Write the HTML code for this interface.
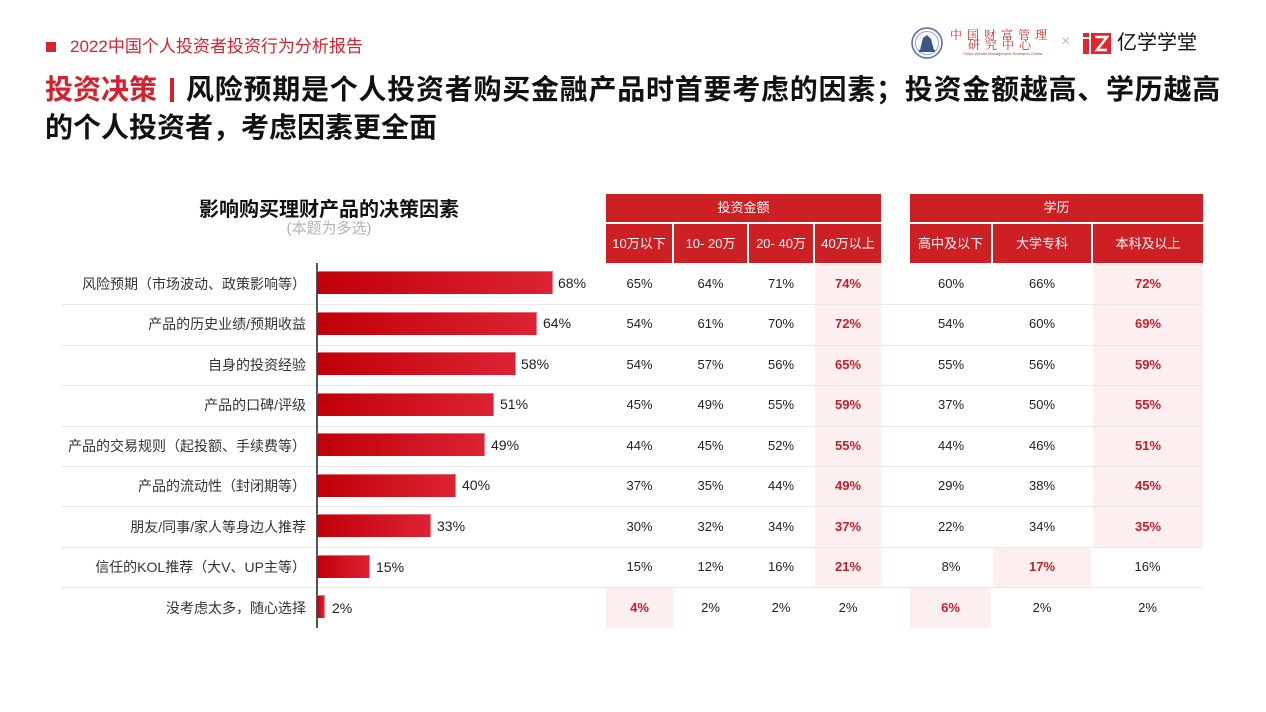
<!DOCTYPE html>
<html><head><meta charset="utf-8">
<style>
*{margin:0;padding:0;box-sizing:border-box}
body{width:1266px;height:712px;background:#fff;position:relative;overflow:hidden;font-family:"Liberation Sans","Noto Sans CJK SC",sans-serif;color:#222}
.a{position:absolute}
.cjk{font-family:"Liberation Sans","Noto Sans CJK SC",sans-serif}
.lbl{position:absolute;left:0;width:306px;text-align:right;font-size:14px;color:#333;height:40.44px;line-height:40.44px;white-space:nowrap}
.bar{position:absolute;left:317px;height:23px;background:linear-gradient(90deg,#c00008,#dc2233);border-top:1px solid #e56a72;border-right:1px solid #e8808a}
.val{position:absolute;font-size:14px;color:#222;height:40.44px;line-height:40.44px}
.sep{position:absolute;left:62px;width:1141px;height:1px;background:#e9e9e9}
.hd{position:absolute;background:#cc2025;color:#fff;font-size:13px;text-align:center}
.c{position:absolute;height:40.44px;line-height:40.44px;text-align:center;font-size:13px;color:#222}
.h{background:#fdeef0;color:#c8202b;font-weight:bold}
</style></head><body>

<!-- top label -->
<div class="a" style="left:46px;top:42px;width:10px;height:10px;background:#d9232f"></div>
<div class="a" style="left:70px;top:36px;font-size:17px;line-height:22px;color:#d9232f;white-space:nowrap">2022中国个人投资者投资行为分析报告</div>

<!-- title -->
<div class="a" style="left:45px;top:73px;font-size:28px;line-height:34px;font-weight:bold;color:#d7202c;white-space:nowrap">投资决策</div>
<div class="a" style="left:170px;top:78px;width:4px;height:24px;background:#d7202c"></div>
<div class="a" style="left:186px;top:73px;font-size:28px;line-height:34px;font-weight:bold;color:#111;white-space:nowrap;letter-spacing:0.75px">风险预期是个人投资者购买金融产品时首要考虑的因素；投资金额越高、学历越高</div>
<div class="a" style="left:45px;top:111px;font-size:28px;line-height:34px;font-weight:bold;color:#111;white-space:nowrap">的个人投资者，考虑因素更全面</div>

<!-- logos -->
<svg class="a" style="left:910px;top:26px" width="34" height="34" viewBox="0 0 34 34">
<circle cx="17" cy="17" r="15" fill="#f4f6fa" stroke="#5b6e96" stroke-width="1.5"/>
<circle cx="17" cy="17" r="11.5" fill="none" stroke="#8a9ab8" stroke-width="0.8"/>
<path d="M10 24 L13 12 L17 9 L21 13 L24 24 Z" fill="#3d5587"/>
<rect x="9" y="24" width="16" height="2" fill="#3d5587"/>
</svg>
<div class="a" style="left:950px;top:28px;font-family:'Noto Serif CJK SC',serif;font-size:12px;line-height:14px;color:#c0302a;letter-spacing:5px;white-space:nowrap">中国财富管理</div>
<div class="a" style="left:968px;top:38px;font-family:'Noto Serif CJK SC',serif;font-size:12px;line-height:14px;color:#c0302a;letter-spacing:5px;white-space:nowrap">研究中心</div>
<div class="a" style="left:963px;top:51px;font-size:4px;line-height:5px;color:#b04040;white-space:nowrap">China Wealth Management Research Center</div>
<div class="a" style="left:1061px;top:33px;font-size:16px;line-height:18px;color:#bbb">×</div>
<svg class="a" style="left:1083px;top:33px" width="28" height="21" viewBox="0 0 28 21">
<rect x="0" y="0" width="6" height="4" fill="#e3262e"/>
<rect x="0" y="6" width="6" height="15" fill="#e3262e"/>
<rect x="8" y="0" width="20" height="21" fill="#e3262e"/>
<path d="M12 4 L24 4 L14 17 L24 17" fill="none" stroke="#fff" stroke-width="2.5"/>
</svg>
<div class="a" style="left:1117px;top:31px;font-size:20px;line-height:24px;color:#111;white-space:nowrap">亿学学堂</div>

<!-- chart title -->
<div class="a" style="left:150px;width:358px;top:197px;text-align:center;font-size:20px;line-height:26px;font-weight:bold;color:#111">影响购买理财产品的决策因素</div>
<div class="a" style="left:150px;width:358px;top:220px;text-align:center;font-size:15px;line-height:18px;color:#b3b3b3">(本题为多选)</div>

<!-- table headers -->
<div class="hd" style="left:606px;top:194px;width:275px;height:28px;line-height:28px">投资金额</div>
<div class="hd" style="left:606px;top:224px;width:66px;height:39px;line-height:39px">10万以下</div>
<div class="hd" style="left:674px;top:224px;width:73px;height:39px;line-height:39px">10- 20万</div>
<div class="hd" style="left:749px;top:224px;width:64px;height:39px;line-height:39px">20- 40万</div>
<div class="hd" style="left:815px;top:224px;width:66px;height:39px;line-height:39px">40万以上</div>
<div class="hd" style="left:910px;top:194px;width:293px;height:28px;line-height:28px">学历</div>
<div class="hd" style="left:910px;top:224px;width:81px;height:39px;line-height:39px">高中及以下</div>
<div class="hd" style="left:993px;top:224px;width:98px;height:39px;line-height:39px">大学专科</div>
<div class="hd" style="left:1093px;top:224px;width:110px;height:39px;line-height:39px">本科及以上</div>

<!-- highlight cells -->
<div class="a" style="left:815px;top:264px;width:66px;height:323.5px;background:#fdeef0"></div>
<div class="a" style="left:1093px;top:264px;width:110px;height:283px;background:#fdeef0"></div>
<div class="a" style="left:993px;top:547.1px;width:98px;height:40.44px;background:#fdeef0"></div>
<div class="a" style="left:606px;top:587.5px;width:67px;height:40.44px;background:#fdeef0"></div>
<div class="a" style="left:910px;top:587.5px;width:81px;height:40.44px;background:#fdeef0"></div>

<!-- separators -->
<div class="sep" style="top:304px"></div>
<div class="sep" style="top:344.5px"></div>
<div class="sep" style="top:385px"></div>
<div class="sep" style="top:425.5px"></div>
<div class="sep" style="top:466px"></div>
<div class="sep" style="top:506px"></div>
<div class="sep" style="top:546.5px"></div>
<div class="sep" style="top:587px"></div>

<!-- axis -->
<div class="a" style="left:316px;top:263px;width:1.5px;height:365px;background:#555"></div>

<!-- rows -->
<!-- row 1 -->
<div class="lbl" style="top:264px">风险预期（市场波动、政策影响等）</div>
<div class="bar" style="top:271px;width:236px"></div>
<div class="val" style="top:263px;left:558px">68%</div>
<div class="c" style="top:264px;left:606px;width:67px">65%</div>
<div class="c" style="top:264px;left:673px;width:75px">64%</div>
<div class="c" style="top:264px;left:748px;width:66px">71%</div>
<div class="c h" style="top:264px;left:815px;width:66px;background:none">74%</div>
<div class="c" style="top:264px;left:910px;width:82px">60%</div>
<div class="c" style="top:264px;left:992px;width:100px">66%</div>
<div class="c h" style="top:264px;left:1093px;width:110px;background:none">72%</div>

<!-- row 2 -->
<div class="lbl" style="top:304.4px">产品的历史业绩/预期收益</div>
<div class="bar" style="top:311.5px;width:220px"></div>
<div class="val" style="top:303.4px;left:543px">64%</div>
<div class="c" style="top:304.4px;left:606px;width:67px">54%</div>
<div class="c" style="top:304.4px;left:673px;width:75px">61%</div>
<div class="c" style="top:304.4px;left:748px;width:66px">70%</div>
<div class="c h" style="top:304.4px;left:815px;width:66px;background:none">72%</div>
<div class="c" style="top:304.4px;left:910px;width:82px">54%</div>
<div class="c" style="top:304.4px;left:992px;width:100px">60%</div>
<div class="c h" style="top:304.4px;left:1093px;width:110px;background:none">69%</div>

<!-- row 3 -->
<div class="lbl" style="top:344.9px">自身的投资经验</div>
<div class="bar" style="top:352px;width:199px"></div>
<div class="val" style="top:343.9px;left:521px">58%</div>
<div class="c" style="top:344.9px;left:606px;width:67px">54%</div>
<div class="c" style="top:344.9px;left:673px;width:75px">57%</div>
<div class="c" style="top:344.9px;left:748px;width:66px">56%</div>
<div class="c h" style="top:344.9px;left:815px;width:66px;background:none">65%</div>
<div class="c" style="top:344.9px;left:910px;width:82px">55%</div>
<div class="c" style="top:344.9px;left:992px;width:100px">56%</div>
<div class="c h" style="top:344.9px;left:1093px;width:110px;background:none">59%</div>

<!-- row 4 -->
<div class="lbl" style="top:385.3px">产品的口碑/评级</div>
<div class="bar" style="top:392.5px;width:177px"></div>
<div class="val" style="top:384.3px;left:500px">51%</div>
<div class="c" style="top:385.3px;left:606px;width:67px">45%</div>
<div class="c" style="top:385.3px;left:673px;width:75px">49%</div>
<div class="c" style="top:385.3px;left:748px;width:66px">55%</div>
<div class="c h" style="top:385.3px;left:815px;width:66px;background:none">59%</div>
<div class="c" style="top:385.3px;left:910px;width:82px">37%</div>
<div class="c" style="top:385.3px;left:992px;width:100px">50%</div>
<div class="c h" style="top:385.3px;left:1093px;width:110px;background:none">55%</div>

<!-- row 5 -->
<div class="lbl" style="top:425.8px">产品的交易规则（起投额、手续费等）</div>
<div class="bar" style="top:433px;width:168px"></div>
<div class="val" style="top:424.8px;left:491px">49%</div>
<div class="c" style="top:425.8px;left:606px;width:67px">44%</div>
<div class="c" style="top:425.8px;left:673px;width:75px">45%</div>
<div class="c" style="top:425.8px;left:748px;width:66px">52%</div>
<div class="c h" style="top:425.8px;left:815px;width:66px;background:none">55%</div>
<div class="c" style="top:425.8px;left:910px;width:82px">44%</div>
<div class="c" style="top:425.8px;left:992px;width:100px">46%</div>
<div class="c h" style="top:425.8px;left:1093px;width:110px;background:none">51%</div>

<!-- row 6 -->
<div class="lbl" style="top:466.2px">产品的流动性（封闭期等）</div>
<div class="bar" style="top:473.5px;width:139px"></div>
<div class="val" style="top:465.2px;left:462px">40%</div>
<div class="c" style="top:466.2px;left:606px;width:67px">37%</div>
<div class="c" style="top:466.2px;left:673px;width:75px">35%</div>
<div class="c" style="top:466.2px;left:748px;width:66px">44%</div>
<div class="c h" style="top:466.2px;left:815px;width:66px;background:none">49%</div>
<div class="c" style="top:466.2px;left:910px;width:82px">29%</div>
<div class="c" style="top:466.2px;left:992px;width:100px">38%</div>
<div class="c h" style="top:466.2px;left:1093px;width:110px;background:none">45%</div>

<!-- row 7 -->
<div class="lbl" style="top:506.6px">朋友/同事/家人等身边人推荐</div>
<div class="bar" style="top:514px;width:114px"></div>
<div class="val" style="top:505.6px;left:437px">33%</div>
<div class="c" style="top:506.6px;left:606px;width:67px">30%</div>
<div class="c" style="top:506.6px;left:673px;width:75px">32%</div>
<div class="c" style="top:506.6px;left:748px;width:66px">34%</div>
<div class="c h" style="top:506.6px;left:815px;width:66px;background:none">37%</div>
<div class="c" style="top:506.6px;left:910px;width:82px">22%</div>
<div class="c" style="top:506.6px;left:992px;width:100px">34%</div>
<div class="c h" style="top:506.6px;left:1093px;width:110px;background:none">35%</div>

<!-- row 8 -->
<div class="lbl" style="top:547.1px">信任的KOL推荐（大V、UP主等）</div>
<div class="bar" style="top:554.5px;width:53px"></div>
<div class="val" style="top:547.1px;left:376px">15%</div>
<div class="c" style="top:547.1px;left:606px;width:67px">15%</div>
<div class="c" style="top:547.1px;left:673px;width:75px">12%</div>
<div class="c" style="top:547.1px;left:748px;width:66px">16%</div>
<div class="c h" style="top:547.1px;left:815px;width:66px;background:none">21%</div>
<div class="c" style="top:547.1px;left:910px;width:82px">8%</div>
<div class="c h" style="top:547.1px;left:993px;width:98px;background:none">17%</div>
<div class="c" style="top:547.1px;left:1092px;width:111px">16%</div>

<!-- row 9 -->
<div class="lbl" style="top:587.5px">没考虑太多，随心选择</div>
<div class="bar" style="top:595px;width:8px"></div>
<div class="val" style="top:587.5px;left:332px">2%</div>
<div class="c h" style="top:587.5px;left:606px;width:67px;background:none">4%</div>
<div class="c" style="top:587.5px;left:673px;width:75px">2%</div>
<div class="c" style="top:587.5px;left:748px;width:66px">2%</div>
<div class="c" style="top:587.5px;left:815px;width:66px">2%</div>
<div class="c h" style="top:587.5px;left:910px;width:81px;background:none">6%</div>
<div class="c" style="top:587.5px;left:992px;width:100px">2%</div>
<div class="c" style="top:587.5px;left:1092px;width:111px">2%</div>

</body></html>
